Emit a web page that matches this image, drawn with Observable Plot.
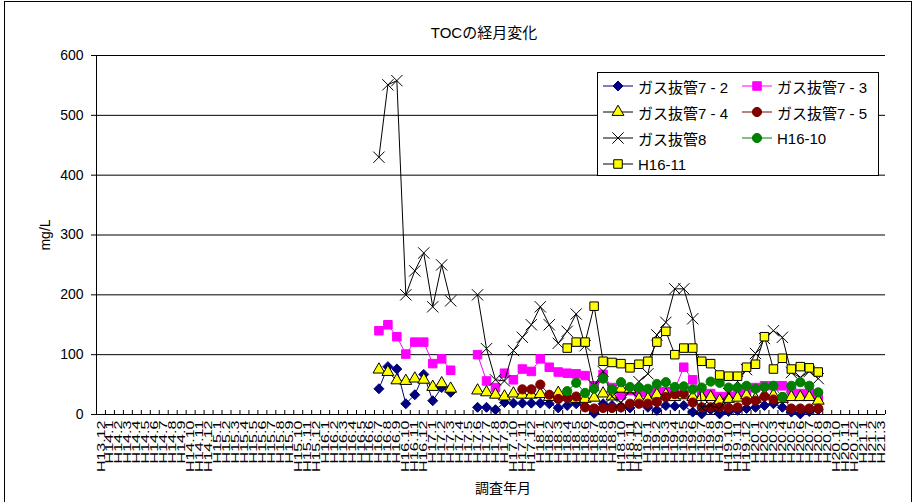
<!DOCTYPE html>
<html><head><meta charset="utf-8">
<script src="https://cdn.jsdelivr.net/npm/d3@7"></script>
<script src="https://cdn.jsdelivr.net/npm/@observablehq/plot@0.6"></script>
<style>
body{margin:0;background:#fff;font-family:"Liberation Sans","Noto Sans CJK JP",sans-serif;}
#wrap{position:relative;width:917px;height:502px;overflow:hidden;background:#fff;}
#frame{position:absolute;left:4px;top:1px;width:906px;height:520px;border:1px solid #000;pointer-events:none;}
#title{position:absolute;left:334px;width:300px;top:24px;text-align:center;font-size:15px;line-height:18px;color:#000;}
#ylab{position:absolute;left:45px;top:235px;transform:translate(-50%,-50%) rotate(-90deg);font-size:14px;white-space:nowrap;}
#legend{position:absolute;left:597px;top:72px;width:282px;height:104px;border:1px solid #000;background:#fff;box-sizing:border-box;}
.li{position:absolute;height:26px;display:flex;align-items:center;font-size:15px;white-space:nowrap;}
.li svg{margin-right:5px;}
#chart{position:absolute;left:0;top:0;}
</style></head>
<body>
<div id="wrap">
  <div id="chart"></div>
  <div id="title">TOCの経月変化</div>
  <div id="ylab">mg/L</div>
  <div id="legend"></div>
  <div id="frame"></div>
</div>
<script>
const categories = ["H13.12",
"H14.1","H14.2","H14.3","H14.4","H14.5","H14.6","H14.7","H14.8","H14.9","H14.10","H14.11","H14.12",
"H15.1","H15.2","H15.3","H15.4","H15.5","H15.6","H15.7","H15.8","H15.9","H15.10","H15.11","H15.12",
"H16.1","H16.2","H16.3","H16.4","H16.5","H16.6","H16.7","H16.8","H16.9","H16.10","H16.11","H16.12",
"H17.1","H17.2","H17.3","H17.4","H17.5","H17.6","H17.7","H17.8","H17.9","H17.10","H17.11","H17.12",
"H18.1","H18.2","H18.3","H18.4","H18.5","H18.6","H18.7","H18.8","H18.9","H18.10","H18.11","H18.12",
"H19.1","H19.2","H19.3","H19.4","H19.5","H19.6","H19.7","H19.8","H19.9","H19.10","H19.11","H19.12",
"H20.1","H20.2","H20.3","H20.4","H20.5","H20.6","H20.7","H20.8","H20.9","H20.10","H20.11","H20.12",
"H21.1","H21.2","H21.3"];

const surveyMonths = ["H16.7","H16.8","H16.9","H16.10","H16.11","H16.12",
"H17.1","H17.2","H17.3","H17.4","H17.5","H17.6","H17.7","H17.8","H17.9","H17.10","H17.11","H17.12",
"H18.1","H18.2","H18.3","H18.4","H18.5","H18.6","H18.7","H18.8","H18.9","H18.10","H18.11","H18.12",
"H19.1","H19.2","H19.3","H19.4","H19.5","H19.6","H19.7","H19.8","H19.9","H19.10","H19.11","H19.12",
"H20.1","H20.2","H20.3","H20.4","H20.5","H20.6","H20.7","H20.8"];

const yTicks = [0,100,200,300,400,500,600];

const gas72 = [43,80,76,18,33,67,23,45,37,null,null,12,12,8,20,19,19,19,19,18,11,15,18,13,2,18,15,12,11,20,12,7,15,14,15,4,1,8,1,5,7,10,12,15,18,12,4,1,5,8];
const gas73 = [140,150,130,101,121,121,85,93,74,null,null,100,56,45,69,58,76,72,93,79,71,69,68,65,48,67,45,32,40,37,36,40,38,42,79,58,35,35,30,30,35,40,45,48,48,48,40,35,35,29];
const gas74 = [75,71,57,56,60,58,46,52,43,null,null,40,37,33,30,35,33,33,34,29,36,29,26,26,28,35,30,43,42,26,26,33,33,29,32,29,29,29,23,26,28,32,26,32,32,26,29,29,29,23];
const gas75 = [null,null,null,null,null,null,null,null,null,null,null,null,null,null,null,null,42,42,50,33,26,28,30,12,10,11,11,12,18,18,18,21,29,34,35,20,12,12,12,11,12,22,23,30,25,29,10,10,10,10];
const gas8 = [430,551,558,200,240,270,180,250,190,null,null,200,110,58,56,107,129,150,180,150,119,139,168,115,48,72,30,20,40,55,68,133,154,210,210,160,12,15,10,35,55,75,102,127,140,129,70,62,72,60];
const h1610 = [null,null,null,null,null,null,null,null,null,null,null,null,null,null,null,null,null,null,null,null,null,39,53,36,43,60,42,54,46,45,43,51,54,46,47,42,45,55,53,45,45,48,43,46,48,29,48,54,48,37];
const h1611 = [null,null,null,null,null,null,null,null,null,null,null,null,null,null,null,null,null,null,null,null,null,111,121,121,181,89,87,85,78,84,89,121,139,100,111,111,89,85,66,64,64,79,84,130,76,94,76,80,78,71];

const seriesNames = ["ガス抜管7 - 2","ガス抜管7 - 3","ガス抜管7 - 4","ガス抜管7 - 5","ガス抜管8","H16-10","H16-11"];
const seriesValues = [gas72, gas73, gas74, gas75, gas8, h1610, h1611];

// styles (kept apart from the data)
const styles = [
  {line:"#000080", symbol:"diamond2", fill:"#000080", stroke:"#000080", r:4.5, sym:d3.symbolDiamond2},
  {line:"#FF00FF", symbol:"square", fill:"#FF00FF", stroke:"#FF00FF", r:4.8, sym:d3.symbolSquare},
  {line:"#000000", symbol:"triangle", fill:"#FFFF00", stroke:"#000000", r:4.4, sym:d3.symbolTriangle},
  {line:"#800000", symbol:"circle", fill:"#800000", stroke:"#800000", r:4.6, sym:d3.symbolCircle},
  {line:"#000000", symbol:"times", fill:"none", stroke:"#000000", r:5.2, sym:d3.symbolTimes},
  {line:"#008000", symbol:"circle", fill:"#008000", stroke:"#008000", r:4.6, sym:d3.symbolCircle},
  {line:"#000000", symbol:"square", fill:"#FFFF00", stroke:"#000000", r:4.8, sym:d3.symbolSquare}
];

const rows = seriesValues.map((vals, s) => surveyMonths.map((m, j) => ({
  i: categories.indexOf(m), v: vals[j], s
})));

const xDomain = [-0.5, categories.length - 0.5];
const catIndex = categories.map((_, i) => i);
const edges = d3.range(xDomain[0], xDomain[1] + 0.01, 1);
const mTop = 55, mBottom = 88, H = 502;
const plotH = H - mTop - mBottom;

const seriesMarks = [];
rows.forEach((data, s) => {
  const st = styles[s];
  seriesMarks.push(Plot.line(data, {x:"i", y:"v", stroke: st.line, strokeWidth: 1}));
  seriesMarks.push(Plot.dot(data.filter(d => d.v != null), {x:"i", y:"v", symbol: st.symbol, r: st.r,
    fill: st.fill, stroke: st.stroke, strokeWidth: 1}));
});

const chart = Plot.plot({
  width: 917, height: H,
  marginLeft: 96, marginRight: 32, marginTop: mTop, marginBottom: mBottom,
  x: {type: "linear", domain: xDomain},
  y: {domain: [0, 600]},
  style: {fontFamily: '"Liberation Sans", Arial, sans-serif', color: "#000", background: "transparent", overflow: "visible"},
  marks: [
    Plot.ruleY(yTicks.filter(d => d > 0), {stroke: "#000", strokeWidth: 1}),
    Plot.axisY({ticks: yTicks, tickSize: 5, tickPadding: 8, label: null, fontSize: 14, stroke: "#000"}),
    Plot.axisX({ticks: catIndex, tickFormat: i => categories[i], tickSize: 0, tickPadding: 6, tickRotate: -90, label: null, fontSize: 11}),
    Plot.tickX(edges, {x: d => d, insetTop: plotH - 4, stroke: "#000"}),
    Plot.ruleX([xDomain[0]], {stroke: "#000"}),
    Plot.ruleY([0], {stroke: "#000"}),
    ...seriesMarks,
    Plot.text(["調査年月"], {frameAnchor: "bottom", dy: 78, dx: 12, fontSize: 14, fontFamily: '"Noto Sans CJK JP", sans-serif'})
  ]
});
document.getElementById("chart").appendChild(chart);

d3.select(chart).selectAll('g[aria-label="x-axis tick label"] text').each(function() {
  const t = this.textContent;
  this.setAttribute("textLength", t.length * 8.6);
  this.setAttribute("lengthAdjust", "spacingAndGlyphs");
});

// legend
const legend = document.getElementById("legend");
const pos = [[5,0],[144,0],[5,26],[144,26],[5,52],[144,52],[5,78]];
seriesNames.forEach((name, s) => {
  const st = styles[s];
  const div = document.createElement("div");
  div.className = "li";
  div.style.left = pos[s][0] + "px";
  div.style.top = pos[s][1] + "px";
  const svg = d3.create("svg").attr("width", 30).attr("height", 16);
  svg.append("line").attr("x1", 0).attr("x2", 30).attr("y1", 8).attr("y2", 8).attr("stroke", st.line);
  svg.append("path").attr("transform", "translate(15,8)")
    .attr("d", d3.symbol(st.sym, Math.PI * st.r * st.r)())
    .attr("fill", st.fill).attr("stroke", st.stroke);
  div.appendChild(svg.node());
  const span = document.createElement("span");
  span.textContent = name;
  div.appendChild(span);
  legend.appendChild(div);
});
</script>
</body></html>
